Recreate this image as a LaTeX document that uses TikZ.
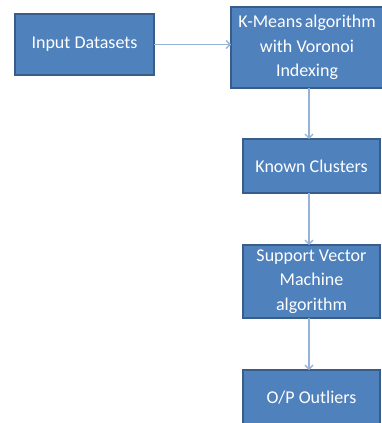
\documentclass[tikz,border=0pt]{standalone}
\usepackage{fontspec}
\setmainfont{Carlito}
\usetikzlibrary{arrows.meta}
\definecolor{boxfill}{HTML}{4F81BD}
\definecolor{boxline}{HTML}{385D8A}
\definecolor{arrowcol}{HTML}{95B3D7}
\begin{document}
\begin{tikzpicture}[x=1pt,y=-1pt,
  flowbox/.style={draw=boxline, line width=1.2pt, fill=boxfill, text=white, align=center,
    font=\fontsize{18}{24.5}\selectfont, inner sep=0pt, outer sep=0pt},
  flowarrow/.style={draw=arrowcol, line width=1.3pt, -{Straight Barb[length=4pt,width=8pt]}}]
\useasboundingbox (0,0) rectangle (382,423);
\clip (0,0) rectangle (382,423);
\node[flowbox, minimum width=139pt, minimum height=61pt] (in) at (84.5,44.5) {Input Datasets};
\node[flowbox, minimum width=152pt, minimum height=81pt] (km) at (307,47.5) {K-Means\hspace{-1.5pt} algorithm\\with Voronoi\\Indexing};
\node[flowbox, minimum width=137pt, minimum height=54pt] (kc) at (311.5,166) {Known Clusters};
\node[flowbox, minimum width=137pt, minimum height=73pt] (svm) at (311.5,281.5) {Support Vector\\Machine\\algorithm};
\node[flowbox, minimum width=137pt, minimum height=56pt] (op) at (311.5,398) {O/P Outliers};
\coordinate (a1) at (km.west |- in.east);
\draw[flowarrow] (in.east) -- (a1);
\draw[flowarrow] (km.south -| 309,0) -- (kc.north -| 309,0);
\draw[flowarrow] (kc.south -| 309,0) -- (svm.north -| 309,0);
\draw[flowarrow] (svm.south -| 309,0) -- (op.north -| 309,0);
\end{tikzpicture}
\end{document}
